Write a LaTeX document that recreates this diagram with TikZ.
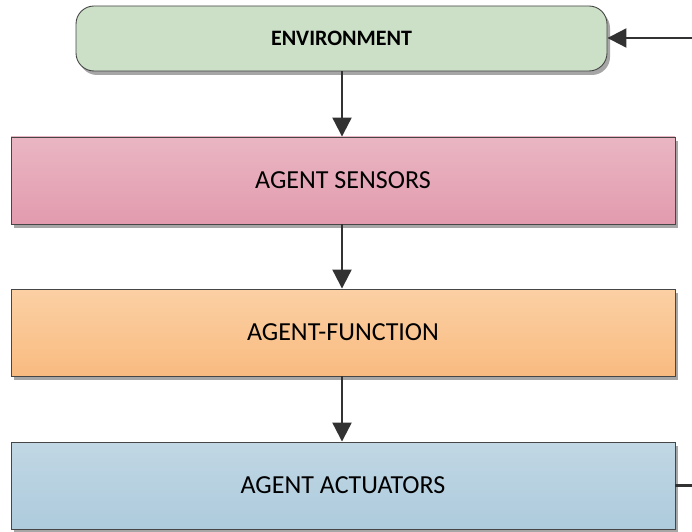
\documentclass[tikz,border=0pt]{standalone}
\usepackage{fontspec}
\setmainfont{Carlito}
\usetikzlibrary{arrows.meta,shadows}
\definecolor{envfill}{RGB}{204,224,200}
\definecolor{senstop}{RGB}{234,182,195}
\definecolor{sensbot}{RGB}{226,155,174}
\definecolor{functop}{RGB}{251,208,164}
\definecolor{funcbot}{RGB}{249,187,128}
\definecolor{acttop}{RGB}{193,215,228}
\definecolor{actbot}{RGB}{173,203,221}
\definecolor{edge}{RGB}{70,70,70}
\definecolor{arr}{RGB}{50,50,50}
\tikzset{
  boxbase/.style={draw=edge, line width=0.9pt, inner sep=0pt,
    drop shadow={shadow xshift=3pt, shadow yshift=-4pt, fill=black!35, opacity=1}},
  envbox/.style={boxbase, rounded corners=18pt, fill=envfill,
    minimum width=531pt, minimum height=65pt, font=\bfseries\fontsize{22}{25}\selectfont},
  flatbox/.style={boxbase, minimum width=664pt, minimum height=87pt,
    font=\fontsize{26}{30}\selectfont},
  link/.style={draw=arr, line width=2.2pt, -{Triangle[length=19pt,width=19pt]}},
  plain/.style={draw=arr, line width=2.2pt}
}
\begin{document}
\begin{tikzpicture}[x=1pt,y=1pt]
\useasboundingbox (0,0) rectangle (692,531);
\node[envbox] (env) at (341.5,492.5) {ENVIRONMENT};
\node[flatbox, top color=senstop, bottom color=sensbot] (sens) at (343,350.5) {AGENT SENSORS};
\node[flatbox, top color=functop, bottom color=funcbot] (func) at (343,198.5) {AGENT-FUNCTION};
\node[flatbox, top color=acttop, bottom color=actbot] (act) at (343,45.5) {AGENT ACTUATORS};
\coordinate (inR) at (692,493);
\coordinate (outR) at (692,45.5);
\draw[link] (env.south -| 342,0) -- (sens.north -| 342,0);
\draw[link] (sens.south -| 342,0) -- (func.north -| 342,0);
\draw[link] (func.south -| 342,0) -- (act.north -| 342,0);
\draw[link] (inR) -- (env.east |- inR);
\draw[plain] (act.east) -- (outR);
\end{tikzpicture}
\end{document}
